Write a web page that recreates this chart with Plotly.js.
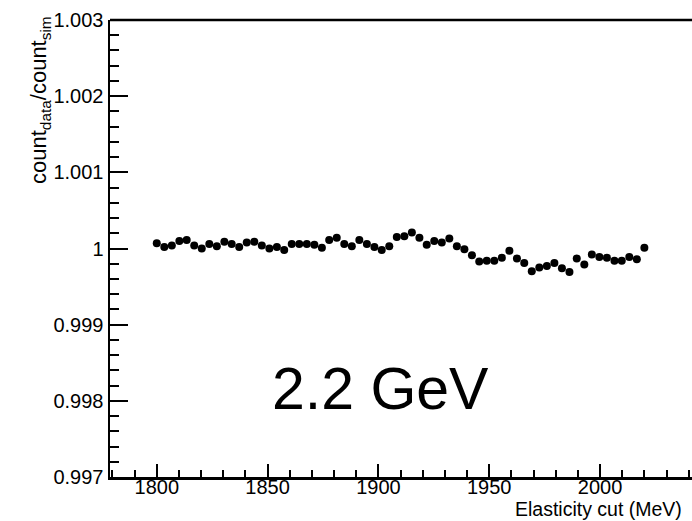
<!DOCTYPE html>
<html>
<head>
<meta charset="utf-8">
<script src="https://cdn.plot.ly/plotly-3.0.1.min.js"></script>
<style>html,body{margin:0;padding:0;background:#fff;overflow:hidden;width:692px;height:521px;}#chart{width:700px;height:521px;}</style>
</head>
<body>
<div id="chart"></div>
<script>
const elasticityCut = [1800, 1803.4, 1806.8, 1810.2, 1813.5, 1816.9, 1820.3, 1823.7, 1827.1, 1830.5,
  1833.8, 1837.2, 1840.6, 1844.0, 1847.4, 1850.8, 1854.2, 1857.5, 1860.9, 1864.3,
  1867.7, 1871.1, 1874.5, 1877.8, 1881.2, 1884.6, 1888.0, 1891.4, 1894.8, 1898.2,
  1901.5, 1904.9, 1908.3, 1911.7, 1915.1, 1918.5, 1921.8, 1925.2, 1928.6, 1932.0,
  1935.4, 1938.8, 1942.2, 1945.5, 1948.9, 1952.3, 1955.7, 1959.1, 1962.5, 1965.8,
  1969.2, 1972.6, 1976.0, 1979.4, 1982.8, 1986.2, 1989.5, 1992.9, 1996.3, 1999.7,
  2003.1, 2006.5, 2009.8, 2013.2, 2016.6, 2020.0];
const countRatio = [1.00007, 1.00002, 1.00004, 1.00010, 1.00011, 1.00004, 1.00000, 1.00006, 1.00003, 1.00009,
  1.00006, 1.00002, 1.00008, 1.00009, 1.00004, 1.00000, 1.00002, 0.99998, 1.00006, 1.00006,
  1.00006, 1.00005, 1.00001, 1.00011, 1.00014, 1.00006, 1.00003, 1.00011, 1.00006, 1.00002,
  0.99998, 1.00003, 1.00015, 1.00016, 1.00021, 1.00014, 1.00005, 1.00010, 1.00008, 1.00013,
  1.00003, 0.99999, 0.99991, 0.99983, 0.99984, 0.99984, 0.99988, 0.99997, 0.99987, 0.99981,
  0.99970, 0.99975, 0.99977, 0.99981, 0.99974, 0.99969, 0.99987, 0.99979, 0.99992, 0.99989,
  0.99988, 0.99984, 0.99984, 0.99989, 0.99986, 1.00001];
const xTickVals = [1800, 1850, 1900, 1950, 2000];
const xTickText = ["1800", "1850", "1900", "1950", "2000"];
const yTickVals = [0.997, 0.998, 0.999, 1.000, 1.001, 1.002, 1.003];
const yTickText = ["0.997", "0.998", "0.999", "1", "1.001", "1.002", "1.003"];
const xTitle = "Elasticity cut (MeV)";
const yTitle = "count<sub>data</sub>/count<sub>sim</sub>";
const beamLabel = "2.2 GeV";

const FONT = "'Liberation Sans', Arial, Helvetica, sans-serif";
const NOGRID = 'rgba(0,0,0,0)';

const trace = {
  x: elasticityCut, y: countRatio, type: 'scatter', mode: 'markers',
  marker: {color: '#000', size: 8, line: {width: 0}},
  hoverinfo: 'x+y'
};

const layout = {
  width: 700, height: 521,
  margin: {l: 110, r: 0, t: 20, b: 44, pad: 0},
  paper_bgcolor: '#fff', plot_bgcolor: '#fff',
  showlegend: false,
  font: {family: FONT, color: '#000', size: 20},
  xaxis: {
    range: [1778.9, 2045.1], showgrid: false, gridcolor: NOGRID, zeroline: false, mirror: false,
    showline: true, linecolor: '#000', linewidth: 2.5,
    ticks: 'inside', ticklen: 13, tickwidth: 2, tickcolor: '#000',
    tickmode: 'array', tickvals: xTickVals, ticktext: xTickText,
    ticklabelstandoff: -10,
    tickfont: {family: FONT, size: 20, color: '#000'},
    minor: {dtick: 10, tick0: 1780, ticks: 'inside', ticklen: 7, tickwidth: 2, tickcolor: '#000', showgrid: false, gridcolor: NOGRID}
  },
  yaxis: {
    range: [0.997, 1.003], showgrid: false, gridcolor: NOGRID, zeroline: false, mirror: false,
    showline: true, linecolor: '#000', linewidth: 2.5,
    ticks: 'inside', ticklen: 18, tickwidth: 2, tickcolor: '#000',
    tickmode: 'array', tickvals: yTickVals, ticktext: yTickText,
    tickfont: {family: FONT, size: 20, color: '#000'},
    minor: {dtick: 0.0002, tick0: 0.997, ticks: 'inside', ticklen: 9, tickwidth: 2, tickcolor: '#000', showgrid: false, gridcolor: NOGRID}
  },
  shapes: [
    {type: 'line', xref: 'paper', yref: 'paper', x0: 0, x1: 1, y0: 1, y1: 1, line: {color: '#000', width: 2.5}}
  ],
  annotations: [
    {text: yTitle, xref: 'paper', yref: 'paper', x: -0.1186, y: 0.825, xanchor: 'center', yanchor: 'middle',
     textangle: -90, showarrow: false, font: {family: FONT, size: 22, color: '#000'}},
    {text: xTitle, xref: 'paper', yref: 'paper', x: 0.6831, y: 0, xanchor: 'left', yanchor: 'middle',
     yshift: -32, showarrow: false, font: {family: FONT, size: 19.5, color: '#000'}},
    {text: beamLabel, xref: 'paper', yref: 'paper', x: 0.4593, y: 0.1926, xanchor: 'center', yanchor: 'middle',
     showarrow: false, font: {family: FONT, size: 59, color: '#000'}}
  ]
};

Plotly.newPlot('chart', [trace], layout, {displayModeBar: false, staticPlot: true});
</script>
</body>
</html>
